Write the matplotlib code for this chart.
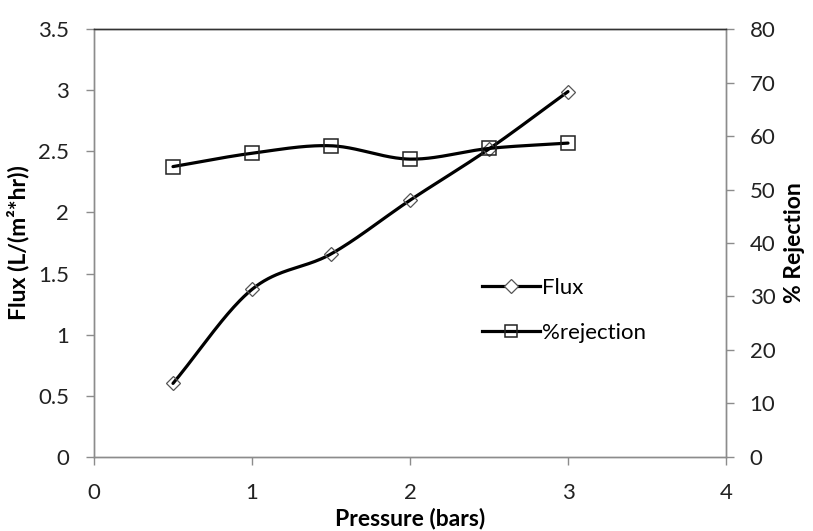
import numpy as np
import matplotlib
matplotlib.use("Agg")
from matplotlib import pyplot as plt

plt.rcParams['font.family'] = ['Lato', 'DejaVu Sans']

pressure = [0.5, 1.0, 1.5, 2.0, 2.5, 3.0]
flux = [0.60, 1.37, 1.66, 2.10, 2.52, 2.99]
rejection = [54.3, 56.8, 58.2, 55.7, 57.7, 58.7]

GRAY = '#8c8c8c'


def smooth(x, y, n=40):
    # Catmull-Rom curve through the points, like a "smoothed line" chart
    x = np.asarray(x, float)
    y = np.asarray(y, float)
    px = np.concatenate([[2 * x[0] - x[1]], x, [2 * x[-1] - x[-2]]])
    py = np.concatenate([[2 * y[0] - y[1]], y, [2 * y[-1] - y[-2]]])
    xs, ys = [], []
    t = np.linspace(0, 1, n)
    for i in range(1, len(px) - 2):
        for p, out in ((px, xs), (py, ys)):
            p0, p1, p2, p3 = p[i - 1], p[i], p[i + 1], p[i + 2]
            out.extend(0.5 * ((2 * p1) + (-p0 + p2) * t
                              + (2 * p0 - 5 * p1 + 4 * p2 - p3) * t ** 2
                              + (-p0 + 3 * p1 - 3 * p2 + p3) * t ** 3))
    return np.array(xs), np.array(ys)


fig = plt.figure(figsize=(8.13, 5.31), dpi=100)
ax = fig.add_axes([0.1156, 0.140, 0.7774, 0.8048])
ax2 = ax.twinx()

fx, fy = smooth(pressure, flux)
ax.plot(fx, fy, color='black', lw=2.3, solid_capstyle='round')
ax.plot(pressure, flux, ls='none', marker='D', ms=7, mfc='none',
        mec='#555555', mew=0.9)

rx, ry = smooth(pressure, rejection)
ax2.plot(rx, ry, color='black', lw=2.3, solid_capstyle='round')
ax2.plot(pressure, rejection, ls='none', marker='s', ms=9.5, mfc='none',
         mec='#222222', mew=1.1)

ax.set_xlim(0, 4)
ax.set_ylim(0, 3.5)
ax2.set_ylim(0, 80)
ax.set_xticks([0, 1, 2, 3, 4])
ax.set_yticks(np.arange(0, 3.51, 0.5))
ax.set_yticklabels(['0', '0.5', '1', '1.5', '2', '2.5', '3', '3.5'])
ax2.set_yticks(range(0, 81, 10))

for a in (ax, ax2):
    for s in a.spines.values():
        s.set_color(GRAY)
        s.set_linewidth(1.0)
    a.spines['top'].set_color('#333333')
    a.tick_params(length=6, width=1.0, color=GRAY, labelsize=16,
                  labelcolor='#222222')
ax.tick_params(axis='x', pad=13)
ax.tick_params(axis='y', pad=12)
ax2.tick_params(axis='y', pad=11)

ax.set_xlabel('Pressure (bars)', fontsize=16.5, fontweight='bold', labelpad=3)
ax.set_ylabel('Flux (L/(m²*hr))', fontsize=16.5, fontweight='bold', labelpad=6)
ax2.set_ylabel('% Rejection', fontsize=16.5, fontweight='bold', labelpad=6)

# legend handles combine the smooth line and the open markers
h1, = ax.plot([], [], color='black', lw=2.3, marker='D', ms=7, mfc='white',
              mec='#555555', mew=0.9)
h2, = ax.plot([], [], color='black', lw=2.3, marker='s', ms=9, mfc='none',
              mec='#222222', mew=1.1)
ax.legend([h1, h2], ['Flux', '%rejection'], loc='upper left',
          bbox_to_anchor=(0.6, 0.44), frameon=False, fontsize=16,
          handlelength=2.6, handletextpad=0.1, labelspacing=1.15,
          borderaxespad=0)

fig.savefig('out.png', dpi=100)
